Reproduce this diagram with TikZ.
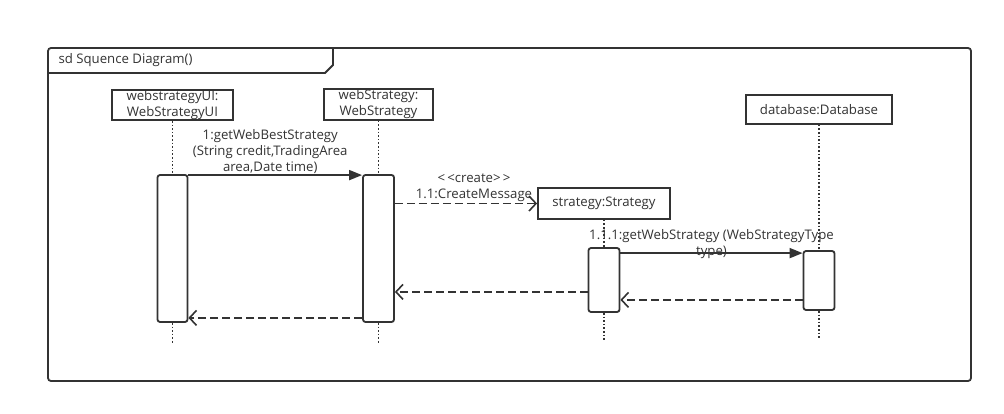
\documentclass[tikz,border=0pt]{standalone}
\usepackage{fontspec}
\setmainfont{Open Sans}
\usetikzlibrary{positioning}
\usetikzlibrary{arrows.meta}
\definecolor{umlline}{HTML}{333333}

\begin{document}
\begin{tikzpicture}[x=1pt,y=-1pt,
	every node/.style={font=\fontsize{13.2}{16}\selectfont,text=umlline},
	head/.style={draw=umlline,line width=1.8pt,fill=white,inner sep=0.5pt,align=center},
	actbar/.style={draw=umlline,line width=1.8pt,fill=white,rounded corners=2.5pt,inner sep=0pt},
	lifeline/.style={draw=umlline,line width=1.8pt,dash pattern=on 1.6pt off 2pt},
	call/.style={draw=umlline,line width=1.8pt,-{Triangle[length=13pt,width=10pt]}},
	reply/.style={draw=umlline,line width=1.8pt,dash pattern=on 8pt off 4pt,-{Straight Barb[length=7pt,width=15pt,line width=1.6pt]}},
	msg/.style={inner sep=1pt,align=center}]
	\useasboundingbox (0,0) rectangle (1004,414);
	
	% Frame
	\draw[umlline,line width=1.8pt,rounded corners=3pt] (48,48) rectangle (971,381);
	\draw[umlline,line width=1.8pt] (48,73) -- (325,73) -- (333,65) -- (333,48);
	\node[anchor=west] (title) at (55,60.5) {sd Squence Diagram()};
	
	% Lifeline heads
	\node[head,minimum width=121pt,minimum height=30pt] (ui) at (172.5,105) {webstrategyUI:\\WebStrategyUI};
	\node[head,minimum width=109pt,minimum height=31pt] (web) at (378.5,104.5) {webStrategy:\\WebStrategy};
	\node[head,minimum width=132pt,minimum height=31pt] (strat) at (604,203.5) {strategy:Strategy};
	\node[head,minimum width=146pt,minimum height=29pt] (db) at (819,109.5) {database:Database};
	
	% Activations
	\node[actbar,minimum width=30pt,minimum height=147pt] (actui) at (172.5,248.5) {};
	\node[actbar,minimum width=31pt,minimum height=147pt] (actweb) at (378.5,248.5) {};
	\node[actbar,minimum width=31pt,minimum height=64pt] (actstrat) at (604,280) {};
	\node[actbar,minimum width=31pt,minimum height=59pt] (actdb) at (819,280.5) {};
	
	% Lifelines
	\draw[lifeline] (ui.south) -- (actui.north);
	\draw[lifeline] (actui.south) -- ++(0,20);
	\draw[lifeline] (web.south) -- (actweb.north);
	\draw[lifeline] (actweb.south) -- ++(0,20);
	\draw[lifeline] (strat.south) -- (actstrat.north);
	\draw[lifeline] (actstrat.south) -- ++(0,28);
	\draw[lifeline] (db.south) -- (actdb.north);
	\draw[lifeline] (actdb.south) -- ++(0,27);
	
	% Messages
	\draw[call] ([yshift=-1pt]actui.north east) -- ([yshift=-1pt]actweb.north west)
		node[msg,midway,above,xshift=-5pt] (m1) {1:getWebBestStrategy\\(String credit,TradingArea\\area,Date time)};
	\draw[reply] (actweb.east |- strat.west) -- (strat.west)
		node[msg,midway,above,xshift=8pt] (m2) {{<}\,{<}create{>}\,{>}\\1.1:CreateMessage};
	\draw[call] ([yshift=-6pt]actstrat.north east) -- ([yshift=-3pt]actdb.north west)
		node[msg,midway,anchor=south,yshift=-7pt] (m3) {1.1.1:getWebStrategy (WebStrategyType\\type)};
	\draw[reply] ([yshift=11pt]actdb.south west) -- ([yshift=11pt]actdb.south west -| actstrat.east);
	\draw[reply] ([yshift=21pt]actstrat.south west) -- ([yshift=21pt]actstrat.south west -| actweb.east);
	\draw[reply] ([yshift=5pt]actweb.south west) -- ([yshift=5pt]actweb.south west -| actui.east);
\end{tikzpicture}
\end{document}
